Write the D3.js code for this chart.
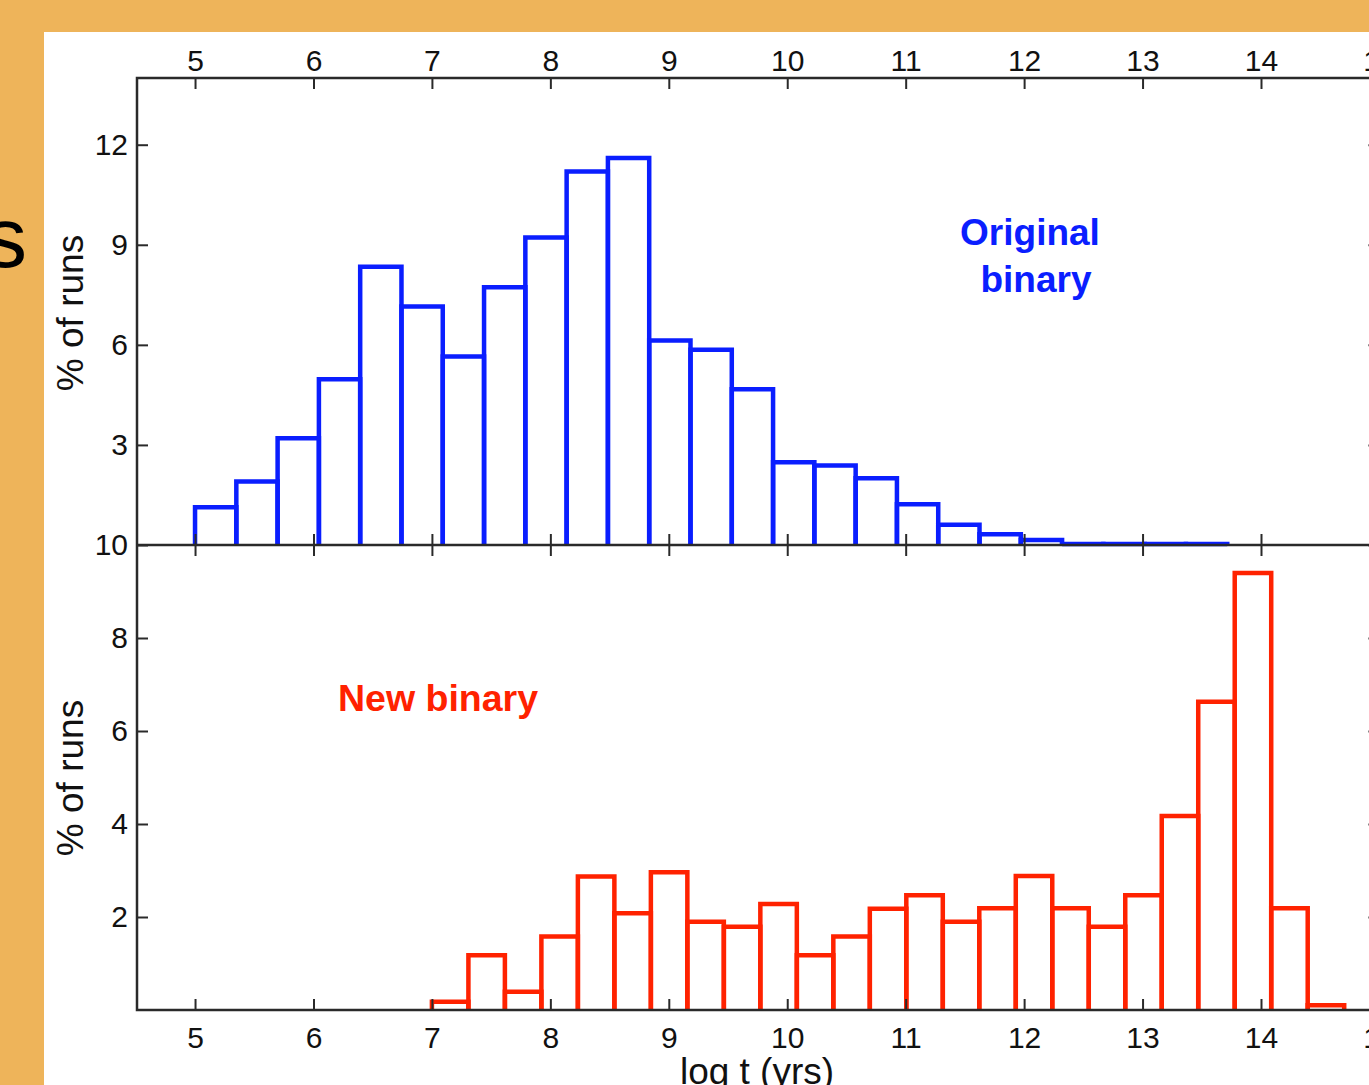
<!DOCTYPE html>
<html>
<head>
<meta charset="utf-8">
<script src="https://cdn.jsdelivr.net/npm/d3@7.9.0/dist/d3.min.js"></script>
<style>
  body { margin: 0; background: #eeb45a; }
  text { font-family: "Liberation Sans", Arial, sans-serif; }
</style>
</head>
<body>
<div id="chart"></div>
<script>
// data: two histograms of log t (yrs), % of runs per bin
const topStart = 5.0;      // first bin edge (log t)
const topBinWidth = 0.3486;
const topValues = [1.13, 1.9, 3.2, 4.97, 8.34, 7.15, 5.65, 7.73, 9.22, 11.2, 11.6,
  6.13, 5.85, 4.67, 2.48, 2.38, 2.0, 1.22, 0.61, 0.32, 0.15, 0.03, 0.03, 0.03, 0.03];

const bottomStart = 7.0;
const bottomBinWidth = 0.3081;
const bottomValues = [0.18, 1.18, 0.39, 1.58, 2.87, 2.08, 2.96, 1.9, 1.79, 2.28, 1.18, 1.58,
  2.18, 2.47, 1.9, 2.19, 2.88, 2.19, 1.79, 2.47, 4.17, 6.63, 9.4, 2.19, 0.1];

const xTicks = [5, 6, 7, 8, 9, 10, 11, 12, 13, 14, 15];
const topYTicks = [3, 6, 9, 12];
const bottomYTicks = [2, 4, 6, 8, 10];

const W = 1369, H = 1085;
const svg = d3.select("#chart").append("svg")
  .attr("width", W)
  .attr("height", H);

// slide background
svg.append("rect").attr("width", W).attr("height", H).attr("fill", "#eeb45a");
svg.append("rect").attr("x", 44).attr("y", 32).attr("width", W - 44).attr("height", H - 32).attr("fill", "#fff");

// leftover letter from slide title
svg.append("text")
  .attr("x", 27).attr("y", 267)
  .attr("text-anchor", "end")
  .attr("font-size", 86)
  .attr("fill", "#000")
  .text("s");

const x = d3.scaleLinear().domain([4.51, 15]).range([137, 137 + 10.49 * 118.44]);
const yTop = d3.scaleLinear().domain([0, 14]).range([545, 78]);
const yBot = d3.scaleLinear().domain([0, 10]).range([1010, 545]);

const axisColor = "#2a2a2a";
const tickLen = 11;

function styleAxis(g, showLabels) {
  g.select(".domain").remove();
  g.selectAll(".tick line").attr("stroke", axisColor).attr("stroke-width", 2);
  g.selectAll(".tick text")
    .attr("fill", "#111")
    .attr("font-size", 30)
    .style("display", showLabels ? null : "none");
}

// histogram outlines (open at the bottom so axis stays on top)
function drawHist(values, start, width, yScale, color) {
  const bins = values.map((v, i) => ({ x0: start + i * width, x1: start + (i + 1) * width, v }));
  svg.append("g")
    .selectAll("path")
    .data(bins)
    .join("path")
      .attr("d", d => `M${x(d.x0)},${yScale(0)}V${yScale(d.v)}H${x(d.x1)}V${yScale(0)}`)
      .attr("fill", "none")
      .attr("stroke", color)
      .attr("stroke-width", 4.5)
      .attr("stroke-linejoin", "miter");
}

drawHist(topValues, topStart, topBinWidth, yTop, "#0a1eff");
drawHist(bottomValues, bottomStart, bottomBinWidth, yBot, "#ff2200");

// axes
svg.append("g").attr("transform", "translate(0,78)")
  .call(d3.axisTop(x).tickValues(xTicks).tickSize(-tickLen).tickPadding(7).tickFormat(d3.format("d")))
  .call(g => styleAxis(g, true));

svg.append("g").attr("transform", "translate(0,545)")
  .call(d3.axisBottom(x).tickValues(xTicks).tickSize(-tickLen))
  .call(g => styleAxis(g, false));

svg.append("g").attr("transform", "translate(0,545)")
  .call(d3.axisTop(x).tickValues(xTicks).tickSize(-tickLen))
  .call(g => styleAxis(g, false));

svg.append("g").attr("transform", "translate(0,1010)")
  .call(d3.axisBottom(x).tickValues(xTicks).tickSize(-tickLen).tickPadding(17).tickFormat(d3.format("d")))
  .call(g => styleAxis(g, true));

svg.append("g").attr("transform", "translate(137,0)")
  .call(d3.axisLeft(yTop).tickValues(topYTicks).tickSize(-tickLen).tickPadding(9))
  .call(g => styleAxis(g, true));

svg.append("g").attr("transform", "translate(137,0)")
  .call(d3.axisLeft(yBot).tickValues(bottomYTicks).tickSize(-tickLen).tickPadding(9))
  .call(g => styleAxis(g, true));

svg.append("g").attr("transform", `translate(${x.range()[1]},0)`)
  .call(d3.axisRight(yTop).tickValues(topYTicks).tickSize(-tickLen))
  .call(g => styleAxis(g, false));

svg.append("g").attr("transform", `translate(${x.range()[1]},0)`)
  .call(d3.axisRight(yBot).tickValues(bottomYTicks).tickSize(-tickLen))
  .call(g => styleAxis(g, false));

// frame lines
const [xl, xr] = x.range();
const frame = svg.append("g").attr("stroke", axisColor).attr("stroke-width", 2.5).attr("fill", "none");
frame.append("path").attr("d", `M${xr},78H${xl}V1010H${xr}V78`);
frame.append("line").attr("x1", xl).attr("x2", xr).attr("y1", 545).attr("y2", 545);

// axis titles
svg.append("text")
  .attr("transform", "translate(83,313) rotate(-90)")
  .attr("text-anchor", "middle")
  .attr("font-size", 37)
  .attr("fill", "#111")
  .text("% of runs");

svg.append("text")
  .attr("transform", "translate(83,778) rotate(-90)")
  .attr("text-anchor", "middle")
  .attr("font-size", 37)
  .attr("fill", "#111")
  .text("% of runs");

svg.append("text")
  .attr("x", 757).attr("y", 1084)
  .attr("text-anchor", "middle")
  .attr("font-size", 37)
  .attr("fill", "#111")
  .text("log t (yrs)");

// series labels
const orig = svg.append("text")
  .attr("text-anchor", "middle")
  .attr("font-size", 37)
  .attr("font-weight", "bold")
  .attr("fill", "#0a1eff");
orig.append("tspan").attr("x", 1030).attr("y", 245).text("Original");
orig.append("tspan").attr("x", 1036).attr("y", 292).text("binary");

svg.append("text")
  .attr("x", 438).attr("y", 711)
  .attr("text-anchor", "middle")
  .attr("font-size", 37.5)
  .attr("font-weight", "bold")
  .attr("fill", "#ff2200")
  .text("New binary");
</script>
</body>
</html>
